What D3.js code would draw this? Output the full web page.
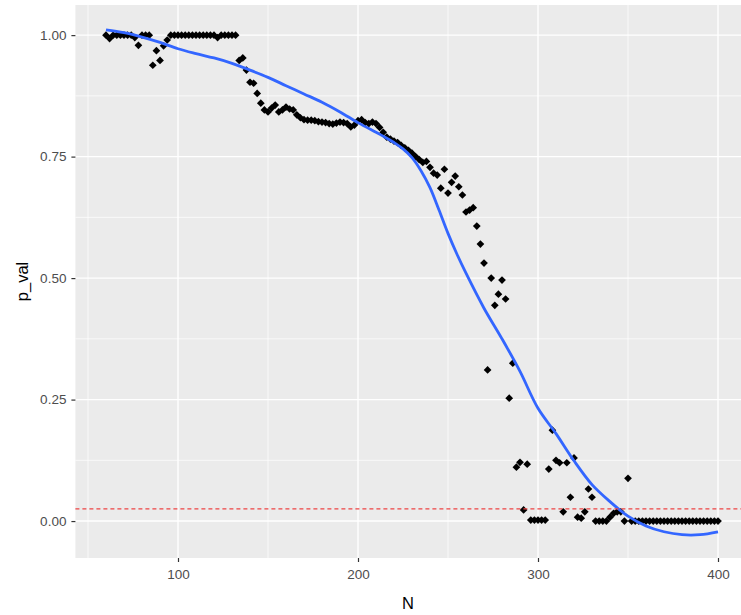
<!DOCTYPE html>
<html>
<head>
<meta charset="utf-8">
<script src="https://cdn.jsdelivr.net/npm/d3@7"></script>
<style>
  html, body { margin: 0; padding: 0; background: #ffffff; }
  svg { display: block; }
</style>
</head>
<body>
<svg id="chart" width="741" height="615"></svg>
<script>
// Sample sizes (N = 60, 62, ..., 400)
const nValues = d3.range(60, 401, 2);

// Observed p-values, one per sample size
const pValues = [
  1.000, 0.993, 1.000, 1.000, 1.000, 1.000, 1.000, 1.000, 0.995, 0.979, // 60-78
  1.000, 1.000, 1.000, 0.938, 0.968, 0.948, 0.978, 0.990, 1.000, 1.000, // 80-98
  1.000, 1.000, 1.000, 1.000, 1.000, 1.000, 1.000, 1.000, 1.000, 1.000, // 100-118
  1.000, 0.995, 1.000, 1.000, 1.000, 1.000, 1.000, 0.948, 0.953, 0.928, // 120-138
  0.903, 0.901, 0.880, 0.860, 0.846, 0.842, 0.850, 0.856, 0.842, 0.846, // 140-158
  0.852, 0.848, 0.846, 0.836, 0.830, 0.826, 0.825, 0.825, 0.824, 0.822, // 160-178
  0.821, 0.820, 0.818, 0.817, 0.819, 0.821, 0.820, 0.818, 0.811, 0.815, // 180-198
  0.824, 0.826, 0.820, 0.818, 0.821, 0.818, 0.810, 0.800, 0.790, 0.786, // 200-218
  0.782, 0.779, 0.773, 0.768, 0.763, 0.757, 0.750, 0.744, 0.738, 0.740, // 220-238
  0.728, 0.716, 0.712, 0.685, 0.724, 0.675, 0.697, 0.710, 0.688, 0.671, // 240-258
  0.636, 0.640, 0.645, 0.607, 0.570, 0.531, 0.311, 0.500, 0.444, 0.467, // 260-278
  0.496, 0.457, 0.253, 0.325, 0.111, 0.121, 0.023, 0.117, 0.002, 0.002, // 280-298
  0.002, 0.002, 0.002, 0.107, 0.187, 0.125, 0.120, 0.019, 0.120, 0.049, // 300-318
  0.130, 0.008, 0.006, 0.019, 0.066, 0.049, 0.000, 0.000, 0.000, 0.000, // 320-338
  0.008, 0.016, 0.019, 0.019, 0.000, 0.088, 0.000, 0.000, 0.000, 0.000, // 340-358
  0.000, 0.000, 0.000, 0.000, 0.000, 0.000, 0.000, 0.000, 0.000, 0.000, // 360-378
  0.000, 0.000, 0.000, 0.000, 0.000, 0.000, 0.000, 0.000, 0.000, 0.000, // 380-398
  0.000                                                                  // 400
];

// Smoothed trend (loess fit) evaluated along N
const smoothN = [
  60, 70, 80, 90, 100, 110, 120, 130, 140, 150,
  160, 170, 180, 190, 200, 210, 215, 220, 225, 230,
  235, 240, 245, 250, 255, 260, 270, 280, 290, 300,
  310, 320, 330, 340, 350, 360, 370, 380, 390, 400
];
const smoothP = [
  1.011, 1.005, 0.996, 0.985, 0.972, 0.962, 0.953, 0.942, 0.928, 0.913,
  0.896, 0.879, 0.862, 0.842, 0.820, 0.800, 0.790, 0.779, 0.766, 0.748,
  0.721, 0.686, 0.640, 0.592, 0.549, 0.510, 0.438, 0.375, 0.308, 0.232,
  0.180, 0.124, 0.075, 0.040, 0.010, -0.010, -0.022, -0.028, -0.028, -0.022
];

// Significance threshold
const threshold = 0.025;

// Axis ticks
const xTicks = [100, 200, 300, 400];
const xMinor = [50, 150, 250, 350];
const yTicks = [0, 0.25, 0.5, 0.75, 1.0];
const yMinor = [0.125, 0.375, 0.625, 0.875];
const yTickLabels = ["0.00", "0.25", "0.50", "0.75", "1.00"];

const points = nValues.map((n, i) => ({ n, p: pValues[i] }));
const smooth = smoothN.map((n, i) => ({ n, p: smoothP[i] }));

const svg = d3.select("#chart");

const panel = { left: 75.4, right: 748.6, top: 5, bottom: 558 };

const x = d3.scaleLinear().domain([43, 417]).range([panel.left, panel.right]);
const y = d3.scaleLinear().domain([-0.076, 1.062]).range([panel.bottom, panel.top]);

const FONT = "'Liberation Sans', Arial, sans-serif";

// Panel background
svg.append("rect")
  .attr("x", panel.left).attr("y", panel.top)
  .attr("width", panel.right - panel.left)
  .attr("height", panel.bottom - panel.top)
  .attr("fill", "#EBEBEB");

const grid = svg.append("g");
// Minor grid
grid.selectAll(".xminor").data(xMinor).enter().append("line")
  .attr("x1", d => x(d)).attr("x2", d => x(d))
  .attr("y1", panel.top).attr("y2", panel.bottom)
  .attr("stroke", "#ffffff").attr("stroke-width", 0.7);
grid.selectAll(".yminor").data(yMinor).enter().append("line")
  .attr("x1", panel.left).attr("x2", panel.right)
  .attr("y1", d => y(d)).attr("y2", d => y(d))
  .attr("stroke", "#ffffff").attr("stroke-width", 0.7);
// Major grid
grid.selectAll(".xmajor").data(xTicks).enter().append("line")
  .attr("x1", d => x(d)).attr("x2", d => x(d))
  .attr("y1", panel.top).attr("y2", panel.bottom)
  .attr("stroke", "#ffffff").attr("stroke-width", 1.4);
grid.selectAll(".ymajor").data(yTicks).enter().append("line")
  .attr("x1", panel.left).attr("x2", panel.right)
  .attr("y1", d => y(d)).attr("y2", d => y(d))
  .attr("stroke", "#ffffff").attr("stroke-width", 1.4);

// Points (filled diamonds)
const diamond = d3.symbol().type(d3.symbolDiamond2).size(38);
svg.append("g").selectAll("path").data(points).enter().append("path")
  .attr("d", diamond)
  .attr("transform", d => `translate(${x(d.n)},${y(d.p)})`)
  .attr("fill", "#000000");

// Smooth trend line
const line = d3.line()
  .x(d => x(d.n)).y(d => y(d.p))
  .curve(d3.curveCatmullRom.alpha(0.5));
svg.append("path")
  .datum(smooth)
  .attr("d", line)
  .attr("fill", "none")
  .attr("stroke", "#3366FF")
  .attr("stroke-width", 2.8);

// Threshold line
svg.append("line")
  .attr("x1", panel.left).attr("x2", panel.right)
  .attr("y1", y(threshold)).attr("y2", y(threshold))
  .attr("stroke", "#EE4444")
  .attr("stroke-width", 1.3)
  .attr("stroke-dasharray", "4,3");

// Axes
const xAxis = d3.axisBottom(x).tickValues(xTicks).tickSize(4).tickPadding(7);
const gx = svg.append("g")
  .attr("transform", `translate(0,${panel.bottom})`)
  .call(xAxis);
const yAxis = d3.axisLeft(y).tickValues(yTicks).tickSize(4).tickPadding(5)
  .tickFormat((d, i) => yTickLabels[i]);
const gy = svg.append("g")
  .attr("transform", `translate(${panel.left},0)`)
  .call(yAxis);

[gx, gy].forEach(g => {
  g.select(".domain").remove();
  g.selectAll(".tick line").attr("stroke", "#333333").attr("stroke-width", 1.2);
  g.selectAll(".tick text")
    .attr("fill", "#4D4D4D")
    .style("font-family", FONT)
    .style("font-size", "13.5px");
});

// Axis titles
svg.append("text")
  .attr("x", 408).attr("y", 609)
  .attr("text-anchor", "middle")
  .style("font-family", FONT)
  .style("font-size", "16.5px")
  .attr("fill", "#000000")
  .text("N");

svg.append("text")
  .attr("transform", `translate(28,${(panel.top + panel.bottom) / 2}) rotate(-90)`)
  .attr("text-anchor", "middle")
  .style("font-family", FONT)
  .style("font-size", "16.5px")
  .attr("fill", "#000000")
  .text("p_val");
</script>
</body>
</html>
